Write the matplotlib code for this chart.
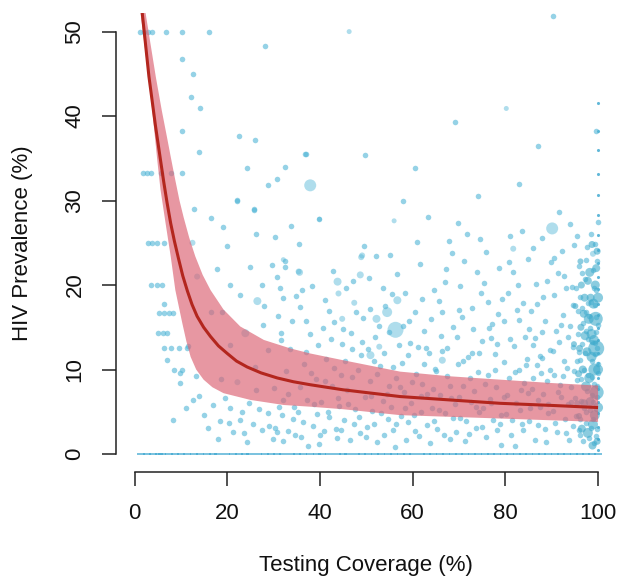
import matplotlib
matplotlib.use("Agg")
import matplotlib.pyplot as plt

# red fitted curve and its band
fit_cov = [1.66, 3.1, 4.5, 5.6, 6.3, 7.0, 7.8, 8.6, 9.5, 10.4, 11.4, 12.4, 13.5, 14.9, 16.4,
           18.1, 20.0, 22.0, 24.3, 27.3, 30.8, 34.3, 37.9, 45, 57.3, 68, 78.9, 90, 100]
fit_prev = [52.2, 44.7, 38.9, 34.8, 32.2, 29.8, 27.3, 25.2, 23.1, 21.1, 19.3, 17.7, 16.3, 15.0,
            13.9, 12.8, 11.9, 11.0, 10.3, 9.6, 9.0, 8.55, 8.2, 7.6, 6.8, 6.4, 6.0, 5.75, 5.5]

band_up_cov = [2.0, 3.4, 4.6, 5.9, 7.0, 7.8, 8.8, 9.7, 10.6, 11.8, 13.1, 14.7, 16.4, 19.2, 22.8,
               27.9, 33.6, 37.9, 45, 57.3, 68, 78.9, 90, 100]
band_up_prev = [53.5, 48.7, 44.6, 40.6, 37.5, 35.2, 32.4, 30.0, 28.0, 25.6, 23.4, 21.2, 19.4,
                17.1, 15.1, 13.5, 12.5, 11.9, 11.1, 9.75, 9.2, 8.8, 8.4, 8.1]
band_lo_cov = [1.0, 2.2, 3.8, 4.9, 5.6, 6.7, 7.8, 8.8, 10.3, 11.2, 12.1, 13.3, 14.9, 16.8, 19.2,
               25.0, 32.2, 37.9, 45, 57.3, 78.9, 100]
band_lo_prev = [53.5, 48.2, 40.8, 34.8, 31.3, 27.3, 23.4, 19.4, 15.5, 13.3, 11.5, 10.0, 8.8, 7.9,
                7.2, 6.4, 5.8, 5.6, 5.3, 4.6, 4.2, 3.8]

# sites with zero prevalence
zero_cov = [1.5, 2.6, 3.9, 5.2, 6.0, 7.4, 8.8, 10.1, 11.3, 12.9, 14.2, 15.6, 17.0, 18.1, 19.7,
            21.2, 22.5, 23.9, 25.0, 26.6, 28.1, 29.4, 30.8, 32.0, 33.7, 35.1, 36.4, 37.8, 39.3,
            40.5, 42.0, 43.6, 44.9, 46.1, 47.7, 49.0, 50.4, 51.9, 53.2, 54.6, 56.0, 57.5, 58.8,
            60.1, 61.7, 63.0, 64.4, 65.9, 67.2, 68.6, 70.0, 71.3, 72.9, 74.2, 75.6, 77.0, 78.3,
            79.8, 81.1, 82.5, 83.9, 85.2, 86.6, 88.0, 89.3, 90.7, 92.0, 93.4, 94.8, 96.1, 97.5,
            98.8, 100.0]

# sites with full coverage
full_prev = [0.5, 1.8, 3.2, 4.9, 6.1, 7.7, 9.0, 10.8, 12.0, 13.5, 14.9, 16.4, 17.8, 19.5, 21.0,
             22.6, 24.1, 25.9, 28.3, 30.6, 33.2, 36.0, 38.2, 41.5]

# small sites (coverage %, prevalence %)
small_sites = [
    (1.2, 50), (2.0, 50), (2.9, 50), (3.8, 50), (6.7, 50), (10.3, 50), (16.0, 50),
    (1.9, 33.3), (2.7, 33.3), (3.5, 33.3), (5.7, 33.3), (7.8, 33.3), (10.3, 33.3),
    (2.8, 25), (3.8, 25), (4.9, 25), (6.3, 25), (3.6, 20), (4.8, 20), (6.0, 20),
    (5.2, 16.7), (6.3, 16.7), (7.4, 16.7), (8.4, 16.7), (5.0, 14.3), (6.1, 14.3), (7.0, 14.3),
    (6.3, 12.5), (7.9, 12.5), (9.6, 12.5), (11.4, 12.5), (7.0, 11.1), (8.6, 10.0), (10.2, 10.0),
    (28.2, 48.3), (36.8, 35.5), (24.3, 33.9), (22.1, 30.1), (16.4, 27.9), (10.3, 46.7), (12.7, 45.0),
    (12.1, 42.2), (14.2, 41.0), (10.3, 38.2), (13.8, 35.7), (32.5, 34.0), (30.8, 32.5), (35.4, 24.8),
    (26.0, 37.2), (22.6, 37.6), (25.7, 28.9), (32.5, 22.9), (22.2, 30.0), (12.8, 29.0), (28.7, 31.9),
    (6.3, 17.7), (20.7, 20.0), (27.5, 20.0), (30.8, 20.9), (32.1, 18.5), (8.4, 4.0), (17.9, 1.8),
    (11.6, 12.8), (9.7, 9.6), (16.4, 16.8), (18.9, 16.8), (25.9, 10.3), (20.7, 12.9), (30.0, 7.8),
    (20.7, 5.5), (24.6, 6.0), (28.7, 4.9), (22.8, 4.0), (14.9, 4.6), (12.7, 6.4), (27.6, 2.8),
    (24.3, 1.4), (30.8, 2.6), (32.1, 6.4), (27.8, 15.3), (31.5, 14.3), (28.7, 12.3), (9.9, 8.4),
    (39.7, 27.8), (25.7, 29.0), (60.6, 33.8), (69.2, 39.3), (90.3, 51.9), (99.6, 38.2), (36.9, 35.5),
    (49.8, 35.4), (63.4, 28.0), (69.8, 27.3), (83.0, 32.0), (74.0, 30.5), (58.0, 30.0), (87.0, 36.5),
    (30.4, 3.1), (31.2, 5.6), (32.0, 1.5), (32.7, 9.8), (33.5, 12.4), (34.1, 4.2), (30.9, 16.3),
    (33.0, 7.1), (34.6, 2.3), (31.7, 13.5), (34.9, 18.7), (32.4, 22.1),
    (35.3, 5.0), (36.0, 2.0), (36.6, 10.7), (37.2, 6.4), (37.9, 14.2), (38.5, 3.3), (39.1, 8.9),
    (39.7, 1.2), (35.8, 17.4), (38.2, 19.9), (36.9, 12.1), (39.4, 4.7), (37.5, 0.9),
    (40.3, 6.1), (40.8, 2.7), (41.4, 11.3), (42.0, 4.4), (42.6, 8.0), (43.1, 15.6), (43.7, 1.9),
    (44.2, 5.7), (44.8, 13.0), (41.1, 18.2), (42.9, 21.7), (44.5, 9.4), (40.6, 14.9), (43.4, 3.0),
    (45.2, 4.0), (45.9, 7.6), (46.5, 1.6), (47.0, 12.4), (47.6, 5.3), (48.2, 9.9), (48.7, 2.5),
    (49.3, 16.1), (49.8, 6.8), (45.6, 19.6), (46.8, 14.3), (48.9, 11.7), (47.3, 3.6), (49.5, 24.6),
    (50.2, 3.2), (50.7, 8.6), (51.3, 5.1), (51.9, 13.8), (52.4, 1.4), (53.0, 10.4), (53.5, 6.3),
    (54.1, 17.5), (54.6, 4.1), (50.5, 20.8), (52.7, 15.2), (53.8, 2.2), (54.9, 8.0), (51.6, 11.0),
    (52.1, 23.4),
    (55.3, 5.6), (55.8, 2.9), (56.4, 9.0), (57.0, 12.9), (57.5, 4.5), (58.1, 7.3), (58.6, 1.7),
    (59.2, 15.8), (59.7, 6.0), (55.5, 18.9), (56.7, 21.3), (57.8, 10.8), (58.9, 3.8), (59.5, 13.1),
    (56.1, 0.8),
    (60.2, 4.6), (60.8, 9.5), (61.3, 2.1), (61.9, 6.9), (62.4, 14.6), (63.0, 3.4), (63.5, 11.9),
    (64.1, 5.4), (64.7, 19.4), (60.5, 16.8), (62.1, 8.3), (63.8, 1.3), (64.4, 7.7), (61.6, 22.5),
    (62.8, 12.6), (64.9, 10.1),
    (65.3, 3.0), (65.8, 7.0), (66.4, 12.2), (66.9, 4.9), (67.5, 9.2), (68.0, 1.8), (68.6, 15.0),
    (69.1, 5.9), (69.7, 10.6), (65.6, 18.1), (67.2, 21.9), (68.3, 6.6), (69.4, 2.6), (66.1, 14.0),
    (67.8, 25.2), (69.9, 17.0),
    (70.3, 4.3), (70.8, 8.1), (71.4, 1.5), (71.9, 11.5), (72.5, 6.2), (73.0, 14.8), (73.6, 3.1),
    (74.1, 9.7), (74.7, 19.0), (70.6, 16.2), (72.2, 2.4), (73.3, 7.5), (74.4, 5.0), (71.1, 22.8),
    (72.8, 12.0), (74.9, 13.4), (71.7, 26.1),
    (75.2, 5.5), (75.8, 2.0), (76.3, 9.3), (76.9, 13.7), (77.4, 4.0), (78.0, 7.9), (78.5, 16.6),
    (79.1, 1.1), (79.6, 10.9), (75.5, 20.3), (76.6, 6.5), (77.7, 11.8), (78.8, 3.5), (79.3, 18.4),
    (75.9, 23.9), (77.2, 15.4), (78.2, 2.8), (79.8, 6.8),
    (80.2, 4.7), (80.7, 9.0), (81.3, 2.3), (81.8, 12.8), (82.4, 6.0), (82.9, 15.9), (83.5, 3.6),
    (84.0, 8.4), (84.6, 11.2), (80.5, 19.1), (81.6, 21.6), (82.1, 1.0), (83.2, 5.2), (83.8, 17.9),
    (84.3, 13.9), (84.9, 7.2), (81.0, 25.8), (83.0, 10.0),
    (85.2, 3.9), (85.7, 7.7), (86.3, 1.6), (86.8, 10.5), (87.4, 5.6), (87.9, 14.4), (88.5, 3.0),
    (89.0, 8.7), (89.6, 12.3), (85.5, 16.9), (86.6, 20.1), (87.1, 6.4), (88.2, 18.6), (88.7, 1.4),
    (89.3, 4.8), (85.9, 12.9), (87.6, 9.6), (89.8, 22.7), (86.0, 24.4), (88.0, 11.4),
    (90.2, 5.1), (90.6, 9.4), (91.1, 2.6), (91.5, 13.2), (92.0, 6.7), (92.4, 16.4), (92.9, 4.1),
    (93.3, 10.2), (93.8, 1.7), (94.2, 7.9), (94.7, 12.7), (90.4, 18.8), (91.3, 21.4), (91.8, 8.2),
    (92.6, 11.0), (93.1, 19.7), (93.6, 5.9), (94.0, 15.1), (94.5, 3.3), (94.9, 9.8), (90.9, 14.6),
    (92.2, 24.0), (93.9, 27.2),
    (95.2, 4.5), (95.5, 8.8), (95.8, 12.1), (96.1, 2.2), (96.4, 6.3), (96.7, 15.5), (97.0, 10.0),
    (97.3, 3.7), (97.6, 7.4), (97.9, 13.6), (98.2, 5.2), (98.5, 18.0), (98.8, 9.1), (99.1, 1.3),
    (99.4, 11.8), (99.7, 6.8), (95.3, 19.6), (95.9, 22.3), (96.5, 17.3), (97.1, 20.7), (97.7, 24.5),
    (98.3, 14.9), (98.9, 21.8), (99.5, 16.2), (99.8, 3.0), (99.9, 9.6), (96.2, 11.1), (96.9, 5.5),
    (98.0, 1.9), (98.6, 7.0), (99.3, 13.1), (99.6, 19.4), (95.6, 14.2), (97.4, 16.8), (99.0, 4.1),
    (99.2, 8.3), (99.8, 12.6), (99.9, 15.3), (99.7, 22.9), (99.9, 27.5),
    (35.7, 7.9), (36.3, 3.8), (37.0, 15.7), (38.0, 9.6), (38.8, 5.9), (39.5, 12.9), (40.1, 2.3),
    (41.0, 8.7), (41.7, 5.0), (42.3, 13.6), (43.0, 10.2), (43.9, 6.6), (44.6, 2.9), (45.4, 11.0),
    (46.1, 5.9), (46.9, 9.1), (47.8, 16.8), (48.5, 4.4), (49.1, 13.3), (49.9, 2.0), (36.2, 19.4),
    (41.9, 16.9), (47.2, 20.5), (45.0, 14.8),
    (50.4, 12.4), (51.0, 6.9), (51.7, 3.6), (52.3, 9.5), (53.2, 4.9), (53.9, 12.0), (54.4, 7.1),
    (55.0, 14.5), (55.7, 10.3), (56.5, 3.5), (57.2, 7.9), (57.9, 15.1), (58.4, 5.4), (59.0, 11.7),
    (59.8, 8.5), (60.4, 2.7), (61.1, 12.7), (61.7, 5.0), (62.5, 10.6), (63.2, 7.1), (63.9, 16.0),
    (64.6, 3.9), (50.9, 17.2), (53.6, 19.6), (58.3, 19.0), (62.0, 18.3), (60.9, 25.1), (55.1, 23.5),
    (65.1, 9.8), (65.7, 5.2), (66.3, 16.8), (66.8, 2.2), (67.4, 12.5), (68.1, 8.0), (68.8, 4.3),
    (69.5, 13.8), (70.1, 6.8), (70.9, 11.0), (71.6, 3.9), (72.3, 9.0), (72.9, 17.3), (73.7, 5.6),
    (74.3, 11.9), (75.0, 3.2), (75.7, 8.3), (76.4, 14.9), (77.0, 6.0), (77.8, 9.9), (78.3, 13.0),
    (79.0, 4.6), (79.7, 15.7), (66.9, 20.4), (70.3, 19.9), (73.9, 21.5), (76.2, 18.0), (78.7, 22.0),
    (68.4, 23.8), (74.6, 25.5),
    (80.3, 7.0), (80.9, 13.6), (81.5, 4.0), (82.0, 9.7), (82.6, 17.0), (83.3, 7.6), (83.9, 2.9),
    (84.4, 10.5), (85.0, 14.8), (85.4, 5.5), (86.0, 9.0), (86.5, 13.7), (87.0, 3.4), (87.5, 11.6),
    (88.1, 7.1), (88.6, 15.8), (89.1, 5.9), (89.7, 10.0), (90.3, 12.2), (90.8, 3.7), (91.4, 7.3),
    (91.9, 15.3), (92.5, 9.2), (93.0, 2.5), (93.5, 13.9), (94.1, 6.2), (94.6, 17.6), (80.8, 22.7),
    (82.8, 20.0), (84.8, 23.1), (86.9, 17.8), (88.9, 20.5), (90.6, 23.2), (92.7, 21.1), (94.4, 19.8),
    (83.6, 26.4), (87.8, 25.6), (91.6, 28.6), (94.8, 24.7),
    (95.1, 6.6), (95.4, 11.0), (95.7, 16.9), (96.0, 4.2), (96.3, 8.9), (96.6, 13.0), (96.8, 1.5),
    (97.2, 11.9), (97.5, 5.0), (97.8, 9.4), (98.1, 16.3), (98.4, 3.1), (98.7, 11.0), (99.0, 6.1),
    (99.3, 17.6), (99.6, 2.1), (99.8, 8.1), (99.9, 10.7), (95.4, 25.8), (96.6, 21.4), (97.5, 23.0),
    (98.5, 26.0), (99.3, 24.9), (96.0, 18.6), (97.3, 14.6), (98.8, 13.2), (99.5, 14.4), (95.9, 2.9),
    (97.9, 17.9), (99.1, 19.6),
    (14.0, 6.9), (15.8, 3.1), (16.9, 5.8), (18.4, 3.9), (19.6, 6.6), (21.3, 2.6), (23.2, 5.0),
    (25.5, 3.6), (26.3, 7.6), (29.1, 3.3), (31.9, 4.6), (33.2, 2.7), (18.7, 8.9), (13.2, 9.2),
    (11.0, 5.4), (20.4, 3.7), (26.9, 5.3), (34.3, 5.6), (29.9, 1.8), (23.7, 2.5),
    (17.8, 21.9), (20.0, 24.6), (24.9, 22.1), (28.0, 17.5), (30.2, 25.7), (33.8, 27.0), (22.7, 18.8),
    (26.1, 26.1), (29.6, 22.4), (34.0, 15.7), (31.3, 19.6), (19.1, 26.9),
]

# larger sites (coverage %, prevalence %, marker diameter in px)
big_sites = [
    (37.9, 31.8, 12), (90.1, 26.7, 12), (56.3, 14.7, 16), (54.5, 16.8, 10), (43.8, 20.4, 8),
    (48.7, 21.2, 7), (35.6, 21.5, 7), (47.4, 17.9, 6), (52.2, 16.0, 8), (56.7, 18.2, 8),
    (50.9, 11.7, 8), (52.8, 12.7, 6), (44.8, 16.0, 6), (66.4, 11.1, 7), (44.0, 19.0, 6),
    (48.9, 23.3, 6), (81.7, 24.3, 6), (98.9, 23.7, 6), (12.5, 25.0, 6), (32.1, 23.0, 5),
    (35.4, 21.6, 6), (26.5, 18.1, 8), (13.5, 21.0, 6), (23.9, 14.3, 8), (22.2, 8.5, 6),
    (39.9, 27.8, 5), (46.3, 50.0, 5), (80.2, 40.9, 5), (56.0, 27.6, 5), (49.1, 23.5, 6),
]

# the crowded sites at (near) full coverage, (coverage %, prevalence %, diameter px)
edge_sites = [
    (99.5, 16.0, 14), (99.6, 12.5, 16), (99.7, 7.3, 14), (99.2, 10.0, 12), (98.6, 14.2, 10),
    (99.3, 4.6, 10), (98.1, 9.0, 10), (97.6, 12.1, 9), (98.4, 18.5, 8), (97.0, 6.0, 8),
    (96.5, 3.0, 8), (97.8, 20.5, 8), (99.4, 20.0, 9), (96.3, 15.0, 7), (99.8, 1.5, 7),
    (95.8, 9.5, 7), (97.8, 2.5, 10), (98.9, 3.5, 10), (97.4, 8.0, 10), (98.6, 11.5, 10),
    (97.2, 14.0, 9), (98.0, 16.0, 10), (99.0, 17.8, 10), (97.1, 18.5, 8), (98.2, 21.5, 9),
    (99.6, 22.0, 8), (96.4, 20.0, 7), (96.0, 12.5, 7), (96.7, 10.0, 8), (95.5, 6.0, 6),
    (94.8, 13.0, 6), (95.1, 17.5, 6), (99.8, 24.0, 7), (98.8, 1.0, 8), (100, 10.0, 10),
    (100, 5.5, 10), (100, 18.5, 10), (98.3, 6.2, 9), (96.9, 16.6, 8), (95.9, 4.5, 6),
    (98.7, 24.8, 7), (96.2, 22.8, 6), (99.1, 13.5, 10),
]

pt_color = "#4fb5d6"

plt.rcParams["font.family"] = ["Liberation Sans", "DejaVu Sans"]
fig = plt.figure(figsize=(6.19, 5.76), dpi=100)
ax = fig.add_axes([116 / 619, 104 / 576, 500.6 / 619, 459 / 576])

ax.scatter(zero_cov, [0] * len(zero_cov), s=30, color="#3aa6cf", alpha=0.8, marker="_", lw=1.2)
ax.scatter([100] * len(full_prev), full_prev, s=5, color="#3aa6cf", alpha=0.8, lw=0)
ax.scatter([p[0] for p in small_sites], [p[1] for p in small_sites], s=16,
           color=pt_color, alpha=0.6, lw=0)
ax.scatter([p[0] for p in big_sites], [p[1] for p in big_sites],
           s=[(p[2] * 0.72) ** 2 for p in big_sites], color=pt_color, alpha=0.45, lw=0)
ax.scatter([p[0] for p in edge_sites], [p[1] for p in edge_sites],
           s=[(p[2] * 0.72) ** 2 for p in edge_sites], color="#3eaacb", alpha=0.6, lw=0)

poly_x = band_up_cov + band_lo_cov[::-1]
poly_y = band_up_prev + band_lo_prev[::-1]
ax.fill(poly_x, poly_y, color="#dc6676", alpha=0.68, lw=0)
ax.plot(fit_cov, fit_prev, color="#b3261e", lw=2.2, solid_capstyle="butt", solid_joinstyle="round")

ax.set_xlim(-4, 104)
ax.set_ylim(-2.13, 52.2)
ax.set_xticks([0, 20, 40, 60, 80, 100])
ax.set_yticks([0, 10, 20, 30, 40, 50])
for side in ["top", "right"]:
    ax.spines[side].set_visible(False)
ax.spines["left"].set_bounds(0, 50)
ax.spines["bottom"].set_bounds(0, 100)
for side in ["left", "bottom"]:
    ax.spines[side].set_linewidth(1.1)
    ax.spines[side].set_color("#222222")
ax.tick_params(direction="out", length=10, width=1.1, color="#222222",
               pad=12, labelsize=16, labelcolor="#111111")
for lbl in ax.get_yticklabels():
    lbl.set_rotation(90)
    lbl.set_va("center")

fig.text(366 / 619, 1 - 565 / 576, "Testing Coverage (%)", ha="center", va="center",
         fontsize=16, color="#111111")
fig.text(23 / 619, 1 - 243 / 576, "HIV Prevalence (%)", ha="center", va="center",
         rotation=90, fontsize=16, color="#111111")

fig.savefig("out.png", dpi=100)
